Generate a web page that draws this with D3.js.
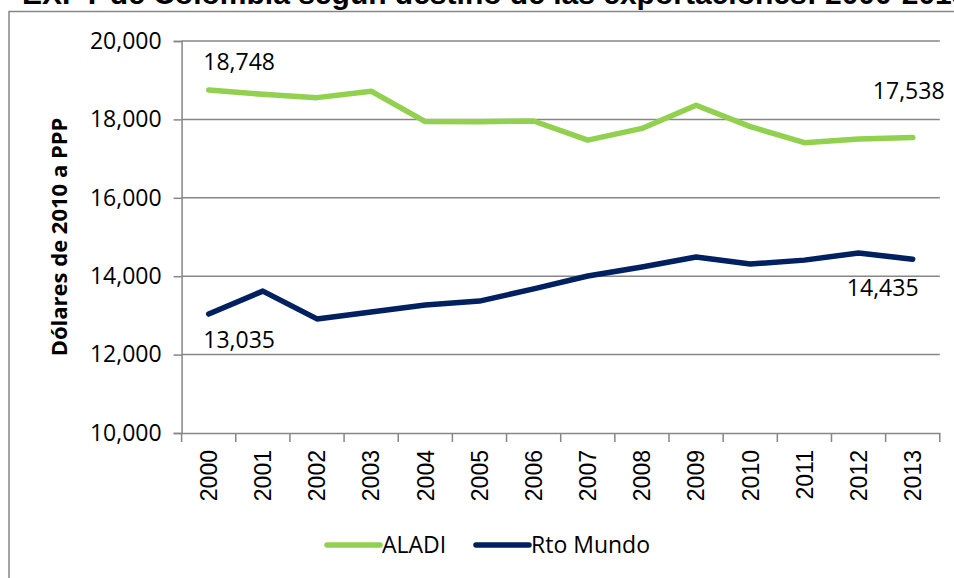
<!DOCTYPE html>
<html>
<head>
<meta charset="utf-8">
<script src="https://cdn.jsdelivr.net/npm/d3@7"></script>
<style>
  body { margin: 0; background: #fff; }
  svg { display: block; }
</style>
</head>
<body>
<svg width="954" height="578"></svg>
<script>
const years = ["2000","2001","2002","2003","2004","2005","2006",
               "2007","2008","2009","2010","2011","2012","2013"];
const aladi = [18748, 18640, 18555, 18720, 17945, 17940, 17960,
               17470, 17770, 18360, 17815, 17405, 17500, 17538];
const rtoMundo = [13035, 13620, 12910, 13085, 13265, 13365, 13675,
                  14005, 14235, 14490, 14310, 14410, 14590, 14435];
const yTicks = [10000, 12000, 14000, 16000, 18000, 20000];
const seriesNames = ["ALADI", "Rto Mundo"];
const seriesColors = ["#92d050", "#002060"];
const title = "EXPY de Colombia según destino de las exportaciones: 2000-2013";
const yTitle = "Dólares de 2010 a PPP";

const fmt = d3.format(",");
const svg = d3.select("svg");
const grid = "#868686";
const calib = "'Open Sans', sans-serif";

// frame + title (clipped at the top like the original)
svg.append("rect")
   .attr("x", 9).attr("y", 11.5)
   .attr("width", 1000).attr("height", 600)
   .style("fill", "none").style("stroke", grid).style("stroke-width", 1.5);

svg.append("text")
   .attr("x", 22).attr("y", 4)
   .style("font-family", "'Liberation Sans', Arial, sans-serif")
   .style("font-weight", "bold")
   .style("font-size", "30px")
   .text(title);

const x = d3.scaleBand().domain(years).range([181.6, 939.8]);
const y = d3.scaleLinear().domain([10000, 20000]).range([433, 41]);
const cx = d => x(d) + x.bandwidth() / 2;

// gridlines
svg.append("g").selectAll("line")
   .data(yTicks.slice(1))
   .join("line")
   .attr("x1", x.range()[0]).attr("x2", x.range()[1])
   .attr("y1", d => y(d)).attr("y2", d => y(d))
   .style("stroke", grid).style("stroke-width", 1.5);

// y axis
const yAxis = svg.append("g")
   .attr("transform", `translate(${x.range()[0]},0)`)
   .call(d3.axisLeft(y).tickValues(yTicks).tickFormat(fmt).tickSize(8).tickPadding(12));
yAxis.select(".domain").style("stroke", grid).style("stroke-width", 1.5);
yAxis.selectAll(".tick line").style("stroke", grid).style("stroke-width", 1.5);
yAxis.selectAll("text")
   .style("font-family", calib).style("font-size", "23px").style("fill", "#000");

// x axis
const xAxis = svg.append("g")
   .attr("transform", `translate(0,${y(10000)})`)
   .call(d3.axisBottom(x).tickSize(0));
xAxis.select(".domain").style("stroke", grid).style("stroke-width", 1.5);
xAxis.selectAll(".tick text")
   .attr("transform", "rotate(-90)")
   .attr("x", -17).attr("y", 0).attr("dy", "0.36em")
   .style("text-anchor", "end")
   .style("font-family", "'Liberation Sans', Arial, sans-serif")
   .style("font-size", "23px").style("fill", "#000");
svg.append("g").selectAll("line")
   .data(years.concat(["end"]))
   .join("line")
   .attr("x1", (d, i) => x.range()[0] + i * x.bandwidth())
   .attr("x2", (d, i) => x.range()[0] + i * x.bandwidth())
   .attr("y1", y(10000)).attr("y2", y(10000) + 9)
   .style("stroke", grid).style("stroke-width", 1.5);

// y title
svg.append("text")
   .attr("transform", "translate(67,237) rotate(-90)")
   .style("text-anchor", "middle")
   .style("font-family", calib).style("font-weight", "bold").style("font-size", "22px")
   .text(yTitle);

// lines
const line = d3.line().x((d, i) => cx(years[i])).y(d => y(d));
[aladi, rtoMundo].forEach(function(vals, k){
  svg.append("path")
     .datum(vals)
     .attr("d", line)
     .style("fill", "none")
     .style("stroke", seriesColors[k])
     .style("stroke-width", 5.5)
     .style("stroke-linejoin", "round")
     .style("stroke-linecap", "round");
});

// data labels: first and last points
const labels = [
  {s: aladi, i: 0, dx: 30.5, dy: -20},
  {s: aladi, i: 13, dx: -4, dy: -38.5},
  {s: rtoMundo, i: 0, dx: 30.5, dy: 34},
  {s: rtoMundo, i: 13, dx: -30, dy: 37}
];
svg.append("g").selectAll("text")
   .data(labels)
   .join("text")
   .attr("x", d => cx(years[d.i]) + d.dx)
   .attr("y", d => y(d.s[d.i]) + d.dy)
   .style("text-anchor", "middle")
   .style("font-family", calib).style("font-size", "23px")
   .text(d => fmt(d.s[d.i]));

// legend
const legX = [327, 476];
const leg = svg.append("g").selectAll("g")
   .data(seriesNames)
   .join("g")
   .attr("transform", (d, i) => `translate(${legX[i]},545)`);
leg.append("line")
   .attr("x1", 0).attr("x2", 53)
   .style("stroke", (d, i) => seriesColors[i])
   .style("stroke-width", 5.5).style("stroke-linecap", "round");
leg.append("text")
   .attr("x", 55).attr("dy", "0.35em")
   .style("font-family", calib).style("font-size", "23px")
   .text(d => d);
</script>
</body>
</html>
